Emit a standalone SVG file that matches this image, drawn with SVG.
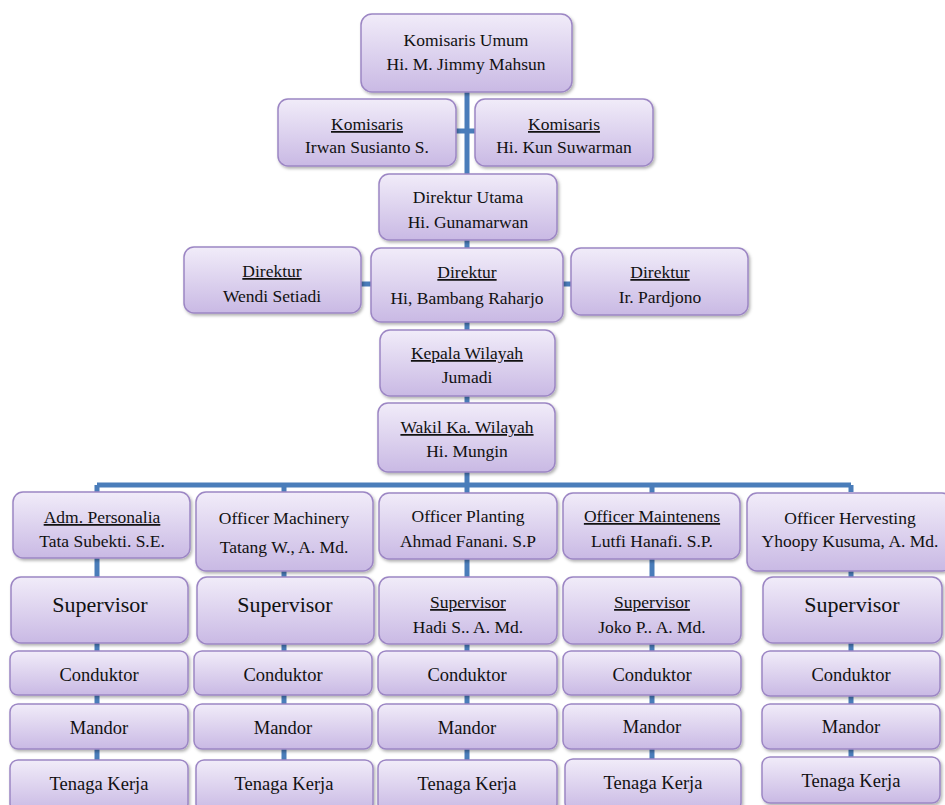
<svg xmlns="http://www.w3.org/2000/svg" width="945" height="805" viewBox="0 0 945 805" font-family="'Liberation Serif', 'Times New Roman', 'DejaVu Serif', serif">
<defs>
<linearGradient id="bg" x1="0" y1="0" x2="0" y2="1">
<stop offset="0" stop-color="#F1ECF9"/>
<stop offset="1" stop-color="#C9B9E4"/>
</linearGradient>
<filter id="sh" x="-10%" y="-10%" width="120%" height="130%">
<feDropShadow dx="1.5" dy="2" stdDeviation="1.5" flood-color="#000" flood-opacity="0.3"/>
</filter>
</defs>
<style>
.b{fill:url(#bg);stroke:#9C86C4;stroke-width:1.5;filter:url(#sh)}
text{font-family:'Liberation Serif','Times New Roman','DejaVu Serif',serif;font-size:17.5px;fill:#111;text-anchor:middle}
.u{text-decoration:underline}
.big{font-size:22px}
.m{font-size:18.5px}
.c{stroke:#4A7DBA;stroke-width:5;fill:none}
</style>
<rect width="945" height="805" fill="#fff"/>
<g id="connectors">
<path class="c" d="M467 92V174M456 131H475M467 240V248M361 284H371M563 284H571M467 322V330M467 396V403M467 472V485M97 485H851M97 485V492M284 485V492M467 485V493M652 485V493M851 485V492"/>
<path class="c" d="M97 558V577M284 571V577M467 559V577M652 559V577M851 571V577"/>
<path class="c" d="M97 643V651M284 644V651M467 644V651M652 644V651M851 643V651"/>
<path class="c" d="M97 695V704M284 695V704M467 695V704M652 695V704M851 695V704"/>
<path class="c" d="M97 749V760M284 749V760M467 749V760M652 749V760M851 749V757"/>
</g>
<g id="komisaris-umum"><rect class="b" x="361" y="14" width="211" height="78" rx="11"/><text x="466" y="46">Komisaris Umum</text><text x="466" y="70">Hi. M. Jimmy Mahsun</text></g>
<g id="komisaris-1"><rect class="b" x="278" y="99" width="178" height="67" rx="10"/><text x="367" y="130" class="u">Komisaris</text><text x="367" y="153">Irwan Susianto S.</text></g>
<g id="komisaris-2"><rect class="b" x="475" y="99" width="178" height="67" rx="10"/><text x="564" y="130" class="u">Komisaris</text><text x="564" y="153">Hi. Kun Suwarman</text></g>
<g id="direktur-utama"><rect class="b" x="379" y="174" width="178" height="66" rx="10"/><text x="468" y="203">Direktur Utama</text><text x="468" y="228">Hi. Gunamarwan</text></g>
<g id="direktur-wendi"><rect class="b" x="184" y="247" width="177" height="66" rx="10"/><text x="272" y="277" class="u">Direktur</text><text x="272" y="302">Wendi Setiadi</text></g>
<g id="direktur-bambang"><rect class="b" x="371" y="248" width="192" height="74" rx="10"/><text x="467" y="278" class="u">Direktur</text><text x="467" y="304">Hi, Bambang Raharjo</text></g>
<g id="direktur-pardjono"><rect class="b" x="571" y="248" width="177" height="67" rx="10"/><text x="660" y="278" class="u">Direktur</text><text x="660" y="303">Ir. Pardjono</text></g>
<g id="kepala-wilayah"><rect class="b" x="380" y="330" width="175" height="66" rx="10"/><text x="467" y="359" class="u">Kepala Wilayah</text><text x="467" y="383">Jumadi</text></g>
<g id="wakil-wilayah"><rect class="b" x="378" y="403" width="177" height="69" rx="10"/><text x="467" y="433" class="u">Wakil Ka. Wilayah</text><text x="467" y="457">Hi. Mungin</text></g>
<g id="adm-personalia"><rect class="b" x="13" y="492" width="177" height="66" rx="10"/><text x="102" y="523" class="u">Adm. Personalia</text><text x="102" y="547">Tata Subekti. S.E.</text></g>
<g id="officer-machinery"><rect class="b" x="196" y="492" width="177" height="79" rx="10"/><text x="284" y="524">Officer Machinery</text><text x="284" y="553">Tatang W., A. Md.</text></g>
<g id="officer-planting"><rect class="b" x="379" y="493" width="178" height="66" rx="10"/><text x="468" y="522">Officer Planting</text><text x="468" y="547">Ahmad Fanani. S.P</text></g>
<g id="officer-maintenens"><rect class="b" x="563" y="493" width="177" height="66" rx="10"/><text x="652" y="522" class="u">Officer Maintenens</text><text x="652" y="547">Lutfi Hanafi. S.P.</text></g>
<g id="officer-hervesting"><rect class="b" x="747" y="493" width="205" height="78" rx="10"/><text x="850" y="524">Officer Hervesting</text><text x="850" y="547">Yhoopy Kusuma, A. Md.</text></g>
<g id="supervisor-1"><rect class="b" x="11" y="577" width="177" height="66" rx="10"/><text x="100" y="612" class="big">Supervisor</text></g>
<g id="supervisor-2"><rect class="b" x="197" y="577" width="177" height="67" rx="10"/><text x="285" y="612" class="big">Supervisor</text></g>
<g id="supervisor-3"><rect class="b" x="379" y="577" width="178" height="67" rx="10"/><text x="468" y="608" class="u">Supervisor</text><text x="468" y="633">Hadi S.. A. Md.</text></g>
<g id="supervisor-4"><rect class="b" x="563" y="577" width="178" height="67" rx="10"/><text x="652" y="608" class="u">Supervisor</text><text x="652" y="633">Joko P.. A. Md.</text></g>
<g id="supervisor-5"><rect class="b" x="763" y="577" width="179" height="66" rx="10"/><text x="852" y="612" class="big">Supervisor</text></g>
<g id="conduktor-1"><rect class="b" x="10" y="651" width="178" height="44" rx="8"/><text x="99" y="681" class="m">Conduktor</text></g>
<g id="conduktor-2"><rect class="b" x="194" y="651" width="178" height="44" rx="8"/><text x="283" y="681" class="m">Conduktor</text></g>
<g id="conduktor-3"><rect class="b" x="378" y="651" width="179" height="44" rx="8"/><text x="467" y="681" class="m">Conduktor</text></g>
<g id="conduktor-4"><rect class="b" x="563" y="651" width="178" height="44" rx="8"/><text x="652" y="681" class="m">Conduktor</text></g>
<g id="conduktor-5"><rect class="b" x="762" y="651" width="178" height="45" rx="8"/><text x="851" y="681" class="m">Conduktor</text></g>
<g id="mandor-1"><rect class="b" x="10" y="704" width="178" height="45" rx="8"/><text x="99" y="734" class="m">Mandor</text></g>
<g id="mandor-2"><rect class="b" x="194" y="704" width="178" height="45" rx="8"/><text x="283" y="734" class="m">Mandor</text></g>
<g id="mandor-3"><rect class="b" x="378" y="704" width="179" height="45" rx="8"/><text x="467" y="734" class="m">Mandor</text></g>
<g id="mandor-4"><rect class="b" x="563" y="704" width="178" height="45" rx="8"/><text x="652" y="733" class="m">Mandor</text></g>
<g id="mandor-5"><rect class="b" x="762" y="704" width="178" height="45" rx="8"/><text x="851" y="733" class="m">Mandor</text></g>
<g id="tenaga-1"><rect class="b" x="10" y="760" width="178" height="52" rx="8"/><text x="99" y="790" class="m">Tenaga Kerja</text></g>
<g id="tenaga-2"><rect class="b" x="196" y="760" width="177" height="52" rx="8"/><text x="284" y="790" class="m">Tenaga Kerja</text></g>
<g id="tenaga-3"><rect class="b" x="378" y="760" width="179" height="52" rx="8"/><text x="467" y="790" class="m">Tenaga Kerja</text></g>
<g id="tenaga-4"><rect class="b" x="565" y="759" width="176" height="52" rx="8"/><text x="653" y="789" class="m">Tenaga Kerja</text></g>
<g id="tenaga-5"><rect class="b" x="762" y="757" width="178" height="46" rx="8"/><text x="851" y="787" class="m">Tenaga Kerja</text></g>
</svg>
